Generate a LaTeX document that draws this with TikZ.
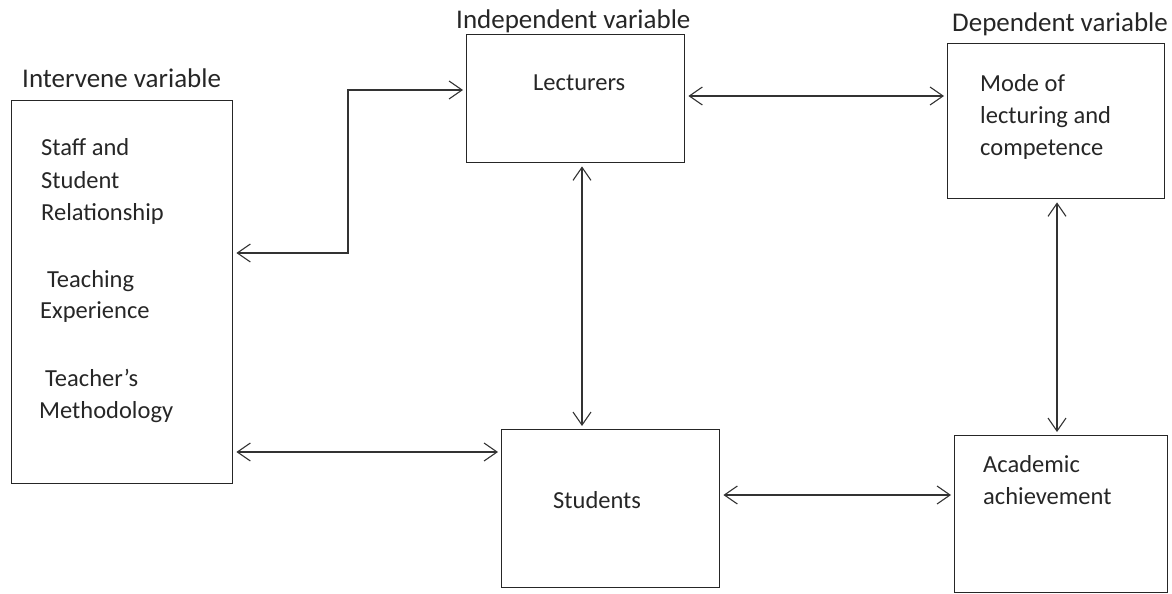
\documentclass[tikz,border=0pt]{standalone}
\usepackage{fontspec}
\setmainfont{Carlito}
\usetikzlibrary{arrows.meta}
\begin{document}
\begin{tikzpicture}[x=1pt,y=-1pt,
 box/.style={draw=black!85, line width=1.4pt, inner sep=0pt, anchor=north west},
 lbl/.style={font=\fontsize{24.5}{33}\selectfont, text=black!85, inner sep=0pt, anchor=base west},
 hdr/.style={font=\fontsize{27}{32}\selectfont, text=black!85, inner sep=0pt, anchor=base west},
 arr/.style={draw=black!80, line width=1.1pt, {Straight Barb[length=13pt,width=18pt]}-{Straight Barb[length=13pt,width=18pt]}, shorten <=3pt, shorten >=3pt}]
\useasboundingbox (0,0) rectangle (1172,594);
% boxes
\node[box, minimum width=221pt, minimum height=383pt] (iv) at (11,100) {};
\node[box, minimum width=218pt, minimum height=128pt] (lec) at (466,34) {};
\node[box, minimum width=217pt, minimum height=155pt] (mode) at (947,43) {};
\node[box, minimum width=218pt, minimum height=158pt] (stu) at (501,429) {};
\node[box, minimum width=213pt, minimum height=157pt] (acad) at (954,435) {};
% headers
\node[hdr] (h1) at (22,87) {Intervene variable};
\node[hdr] (h2) at (456,29) {Independent variable};
\node[hdr] (h3) at (952,32) {Dependent variable};
% texts
\node[lbl] (t1) at (41,155) {Staff and};
\node[lbl] (t2) at (41,188) {Student};
\node[lbl] (t3) at (41,220) {Relationship};
\node[lbl] (t4) at (47,287) {Teaching};
\node[lbl] (t5) at (40,318) {Experience};
\node[lbl] (t6) at (45,386) {Teacher’s};
\node[lbl] (t7) at (39,418) {Methodology};
\node[lbl] (t8) at (533,90) {Lecturers};
\node[lbl] (t9) at (980,92) {Mode of};
\node[lbl] (t10) at (980,123) {lecturing and};
\node[lbl] (t11) at (980,155) {competence};
\node[lbl] (t12) at (553,508) {Students};
\node[lbl] (t13) at (983,472) {Academic};
\node[lbl] (t14) at (983,504) {achievement};
% connector helpers
\coordinate (e1) at (348,253);
\coordinate (e2) at (348,90);
\coordinate (ylm) at (0,96);
\coordinate (xls) at (582,0);
\coordinate (yis) at (0,452);
\coordinate (ysa) at (0,495);
\coordinate (xma) at (1057,0);
% connectors
\draw[arr] (iv.east |- e1) -- (e1) -- (e2) -- (lec.west |- e2);
\draw[arr] (lec.east |- ylm) -- (mode.west |- ylm);
\draw[arr] (lec.south -| xls) -- (stu.north -| xls);
\draw[arr] (iv.east |- yis) -- (stu.west |- yis);
\draw[arr] (stu.east |- ysa) -- (acad.west |- ysa);
\draw[arr] (mode.south -| xma) -- (acad.north -| xma);
\end{tikzpicture}
\end{document}
